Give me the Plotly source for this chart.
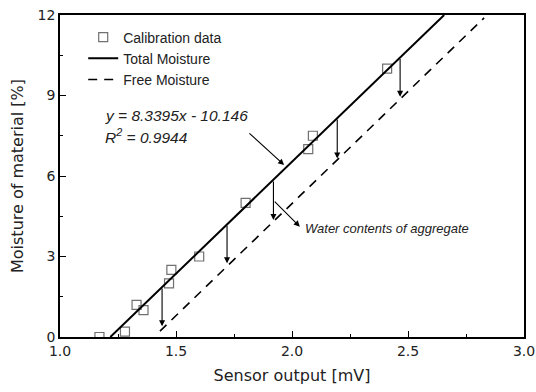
import plotly.graph_objects as go

# Calibration data
cal_x = [1.17, 1.28, 1.33, 1.36, 1.47, 1.48, 1.60, 1.80, 2.07, 2.09, 2.41]
cal_y = [0.0, 0.2, 1.2, 1.0, 2.0, 2.5, 3.0, 5.0, 7.0, 7.5, 10.0]

# Line endpoints
total_x = [1.217, 2.656]
total_y = [0.0, 12.0]
free_x = [1.431, 2.828]
free_y = [0.22, 11.89]

# Vertical arrows (total -> free moisture)
arr_x = [1.44, 1.72, 1.92, 2.195, 2.466]
arr_top = [1.86, 4.20, 5.85, 8.16, 10.42]
arr_bot = [0.40, 2.75, 4.36, 6.65, 8.95]

x_ticks = [1.0, 1.5, 2.0, 2.5, 3.0]
x_ticklabels = ["1.0", "1.5", "2.0", "2.5", "3.0"]
y_ticks = [0, 3, 6, 9, 12]
y_ticklabels = ["0", "3", "6", "9", "12"]

arial = "Liberation Sans, Arial, sans-serif"
verd = "DejaVu Sans, Verdana, sans-serif"

fig = go.Figure()
fig.add_trace(go.Scatter(
    x=cal_x, y=cal_y, mode="markers", name="Calibration data",
    marker=dict(symbol="square-open", size=9, color="#707070",
                line=dict(width=1.2, color="#707070"))))
fig.add_trace(go.Scatter(
    x=total_x, y=total_y, mode="lines", name="Total Moisture",
    line=dict(color="black", width=2)))
fig.add_trace(go.Scatter(
    x=free_x, y=free_y, mode="lines", name="Free Moisture",
    line=dict(color="black", width=1.6, dash="9px,7px")))

for xv, yt, yb in zip(arr_x, arr_top, arr_bot):
    fig.add_annotation(x=xv, y=yb, ax=xv, ay=yt, axref="x", ayref="y",
                       xref="x", yref="y", text="", showarrow=True,
                       arrowhead=2, arrowsize=1.1, arrowwidth=1.1,
                       arrowcolor="black")

# Equation pointer arrow
fig.add_annotation(x=1.966, y=6.41, ax=1.81, ay=7.64, axref="x", ayref="y",
                   xref="x", yref="y", text="", showarrow=True,
                   arrowhead=2, arrowsize=1.1, arrowwidth=1.1, arrowcolor="black")
# Water contents pointer arrow
fig.add_annotation(x=2.034, y=4.11, ax=1.919, ay=5.1, axref="x", ayref="y",
                   xref="x", yref="y", text="", showarrow=True,
                   arrowhead=2, arrowsize=1.1, arrowwidth=1.1, arrowcolor="black")

fig.add_annotation(x=1.185, y=8.27, xref="x", yref="y", xanchor="left",
                   yanchor="middle", showarrow=False,
                   text="<i>y = 8.3395x - 10.146</i>",
                   font=dict(family=arial, size=15.5, color="#222"))
fig.add_annotation(x=1.185, y=7.49, xref="x", yref="y", xanchor="left",
                   yanchor="middle", showarrow=False,
                   text="<i>R<sup>2</sup> = 0.9944</i>",
                   font=dict(family=arial, size=15.5, color="#222"))
fig.add_annotation(x=2.047, y=4.03, xref="x", yref="y", xanchor="left",
                   yanchor="middle", showarrow=False,
                   text="<i>Water contents of aggregate</i>",
                   font=dict(family=arial, size=13, color="#222"))

axis_common = dict(showgrid=False, zeroline=False, showline=True,
                   linecolor="black", linewidth=1.5, mirror=True,
                   ticks="inside", ticklen=6, tickwidth=1.2, tickcolor="black",
                   automargin=False,
                   tickfont=dict(family=verd, size=14, color="#222"))

fig.update_xaxes(range=[1.0, 3.0], tickvals=x_ticks, ticktext=x_ticklabels,
                 minor=dict(ticks="inside", ticklen=3, dtick=0.25, tickcolor="black"),
                 title=dict(text="Sensor output [mV]", standoff=12,
                            font=dict(family=verd, size=16, color="#222")),
                 **axis_common)
fig.update_yaxes(range=[0, 12], tickvals=y_ticks, ticktext=y_ticklabels,
                 minor=dict(ticks="inside", ticklen=3, dtick=1.5, tickcolor="black"),
                 title=dict(text="Moisture of material [%]", standoff=10,
                            font=dict(family=verd, size=16, color="#222")),
                 **axis_common)

fig.update_layout(
    width=536, height=392,
    margin=dict(l=60, r=12, t=15, b=55),
    plot_bgcolor="white", paper_bgcolor="white",
    showlegend=True,
    legend=dict(x=0.05, y=0.98, xanchor="left", yanchor="top",
                bgcolor="rgba(0,0,0,0)", tracegroupgap=0,
                font=dict(family=arial, size=14, color="#222")),
)

fig.write_html("out.html")
